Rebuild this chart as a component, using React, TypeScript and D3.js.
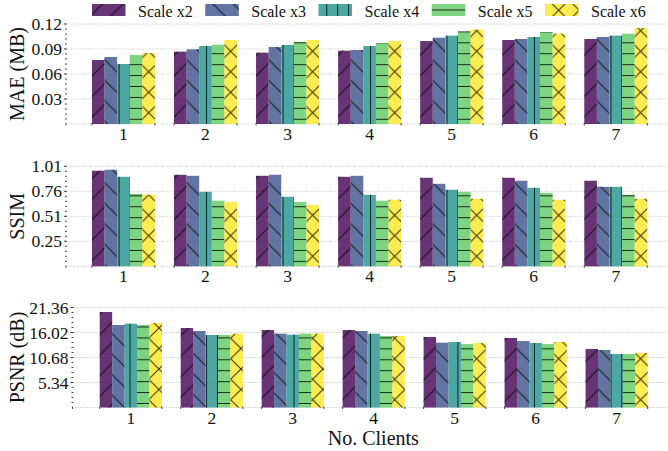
import React from "react";
import * as d3 from "d3";

const clients = [1, 2, 3, 4, 5, 6, 7];
const seriesNames = ["Scale x2", "Scale x3", "Scale x4", "Scale x5", "Scale x6"];

const maeValues = [
  [0.0768, 0.0868, 0.0856, 0.088, 0.0996, 0.1008, 0.102],
  [0.0804, 0.0896, 0.0924, 0.0888, 0.1036, 0.102, 0.1044],
  [0.072, 0.0936, 0.0948, 0.0936, 0.106, 0.1044, 0.106],
  [0.0828, 0.0952, 0.0984, 0.0972, 0.1112, 0.1104, 0.1084],
  [0.0852, 0.1008, 0.1008, 0.0996, 0.1132, 0.1084, 0.1152],
];
const ssimValues = [
  [0.965, 0.924, 0.914, 0.904, 0.894, 0.894, 0.864],
  [0.975, 0.914, 0.924, 0.914, 0.833, 0.864, 0.803],
  [0.904, 0.752, 0.702, 0.722, 0.773, 0.793, 0.803],
  [0.732, 0.662, 0.651, 0.662, 0.752, 0.742, 0.722],
  [0.722, 0.651, 0.621, 0.672, 0.682, 0.672, 0.682],
];
const psnrValues = [
  [20.4, 16.98, 16.55, 16.55, 15.06, 14.85, 12.5],
  [17.62, 16.34, 15.77, 16.34, 13.85, 14.2, 12.28],
  [17.9, 15.49, 15.56, 15.77, 13.99, 13.78, 11.43],
  [17.62, 15.49, 15.77, 15.27, 13.56, 13.56, 11.43],
  [18.05, 15.77, 15.77, 15.27, 13.78, 13.99, 11.64],
];

const maeTicks = [0.03, 0.06, 0.09, 0.12];
const ssimTicks = [0.2525, 0.505, 0.7575, 1.01];
const psnrTicks = [5.34, 10.68, 16.02, 21.36];

const yLabels = ["MAE (MB)", "SSIM", "PSNR (dB)"];
const xLabel = "No. Clients";

const W = 668;
const H = 451;
const FONT = "Liberation Serif, DejaVu Serif, serif";
const panelTops = [24, 166.3, 307.5];
const panelLefts = [66, 66, 72.5];
const panelDomainStart = [0.3, 0.3, 0.28];
const panelH = 100;
const axisRight = 680.6;
const barW = 0.1535;
const P = 20.5; // diagonal hatch period
const Q = 10.93; // straight hatch period

const colors = [0, 0.25, 0.5, 0.75, 1].map((t) => d3.interpolateViridis(t));

function HatchDefs() {
  const st = { stroke: "#000", strokeWidth: 1, strokeOpacity: 0.8, fill: "none" } as any;
  return (
    <defs>
      <pattern id="h0" patternUnits="userSpaceOnUse" width={P} height={P} x={4} y={0}>
        <path d={`M0,${P} L${P},0 M-2,2 L2,-2 M${P - 2},${P + 2} L${P + 2},${P - 2}`} {...st} />
      </pattern>
      <pattern id="h1" patternUnits="userSpaceOnUse" width={P} height={P} x={4} y={0}>
        <path d={`M0,0 L${P},${P} M-2,${P - 2} L2,${P + 2} M${P - 2},-2 L${P + 2},2`} {...st} />
      </pattern>
      <pattern id="h2" patternUnits="userSpaceOnUse" width={Q} height={Q} x={9.8 - Q / 2} y={0}>
        <path d={`M${Q / 2},0 V${Q}`} {...st} />
      </pattern>
      <pattern id="h3" patternUnits="userSpaceOnUse" width={Q} height={Q} x={0} y={10 - Q / 2}>
        <path d={`M0,${Q / 2} H${Q}`} {...st} />
      </pattern>
      <pattern id="h4" patternUnits="userSpaceOnUse" width={P} height={P} x={148.7 - P / 2} y={0}>
        <path
          d={`M0,${P} L${P},0 M-2,2 L2,-2 M${P - 2},${P + 2} L${P + 2},${P - 2} M0,0 L${P},${P} M-2,${P - 2} L2,${P + 2} M${P - 2},-2 L${P + 2},2`}
          {...st}
        />
      </pattern>
    </defs>
  );
}

function Panel({ idx, values, ticks, label }: { idx: number; values: number[][]; ticks: number[]; label: string }) {
  const top = panelTops[idx];
  const bottom = top + panelH;
  const axisLeft = panelLefts[idx];
  const yMax = ticks[ticks.length - 1];
  const y = d3.scaleLinear().domain([0, yMax]).range([bottom, top]);
  const x = d3.scaleLinear().domain([panelDomainStart[idx], 7.79]).range([axisLeft, axisRight]);
  const bw = x(barW) - x(0);
  const minor = d3.range(1, 20).map((j) => (yMax / 20) * j).filter((_, j) => (j + 1) % 5 !== 0);
  const gridVals = [0, ...ticks];
  const edgeTicks: number[] = [];
  clients.forEach((c) => {
    edgeTicks.push(x(c) - 2.5 * bw, x(c) + 2.5 * bw);
  });
  return (
    <g>
      {gridVals.map((t, i) => (
        <line
          key={"g" + i}
          x1={axisLeft}
          x2={axisRight}
          y1={y(t)}
          y2={y(t)}
          stroke="#b5b5b5"
          strokeWidth={0.8}
          strokeDasharray="1 1.4"
        />
      ))}
      {values.map((ser, k) =>
        ser.map((v, i) => {
          const cx = x(clients[i]) + (k - 2) * bw;
          return (
            <g key={`b${k}-${i}`}>
              <rect x={cx - bw / 2} y={y(v)} width={bw} height={bottom - y(v)} fill={colors[k]} fillOpacity={0.8} />
              <rect x={cx - bw / 2} y={y(v)} width={bw} height={bottom - y(v)} fill={`url(#h${k})`} />
            </g>
          );
        })
      )}
      {ticks.map((t, i) => (
        <g key={"t" + i}>
          <line x1={axisLeft - 2} x2={axisLeft + 1} y1={y(t)} y2={y(t)} stroke="#333" strokeWidth={1} />
          <text
            x={axisLeft - 4}
            y={y(t)}
            dy="0.35em"
            textAnchor="end"
            style={{ fontFamily: FONT, fontSize: "17.5px" }}
            fill="#111"
          >
            {d3.format(".2f")(t)}
          </text>
        </g>
      ))}
      {minor.map((t, i) => (
        <line key={"m" + i} x1={axisLeft - 1} x2={axisLeft + 1} y1={y(t)} y2={y(t)} stroke="#444" strokeWidth={1} />
      ))}
      <line x1={axisLeft} x2={axisLeft} y1={bottom - 1} y2={bottom + 1.5} stroke="#444" />
      {edgeTicks.map((px, i) => (
        <line key={"e" + i} x1={px} x2={px} y1={bottom - 1} y2={bottom + 1.5} stroke="#444" strokeWidth={1} />
      ))}
      {clients.map((c) => (
        <text
          key={"x" + c}
          x={x(c)}
          y={bottom + 16}
          textAnchor="middle"
          style={{ fontFamily: FONT, fontSize: "17.5px" }}
          fill="#111"
        >
          {c}
        </text>
      ))}
      <text
        transform={`translate(24,${(top + bottom) / 2}) rotate(-90)`}
        textAnchor="middle"
        style={{ fontFamily: FONT, fontSize: "20px" }}
        fill="#111"
      >
        {label}
      </text>
    </g>
  );
}

export default function App() {
  const legendX = d3.scaleLinear().domain([0, 4]).range([92, 545]);
  return (
    <svg
      width={W}
      height={H}
      viewBox={`0 0 ${W} ${H}`}
      style={{ position: "absolute", left: 0, top: 0, background: "#fff" }}
    >
      <rect x={0} y={0} width={W} height={H} fill="#fff" />
      <HatchDefs />
      <Panel idx={0} values={maeValues} ticks={maeTicks} label={yLabels[0]} />
      <Panel idx={1} values={ssimValues} ticks={ssimTicks} label={yLabels[1]} />
      <Panel idx={2} values={psnrValues} ticks={psnrTicks} label={yLabels[2]} />
      {seriesNames.map((s, k) => (
        <g key={s}>
          <rect x={legendX(k)} y={4} width={33.5} height={12} fill={colors[k]} fillOpacity={0.8} />
          <rect x={legendX(k)} y={4} width={33.5} height={12} fill={`url(#h${k})`} />
          <text x={legendX(k) + 46} y={16.5} style={{ fontFamily: FONT, fontSize: "16px" }} fill="#111">
            {s}
          </text>
        </g>
      ))}
      <text x={373.3} y={445} textAnchor="middle" style={{ fontFamily: FONT, fontSize: "20px" }} fill="#111">
        {xLabel}
      </text>
    </svg>
  );
}
